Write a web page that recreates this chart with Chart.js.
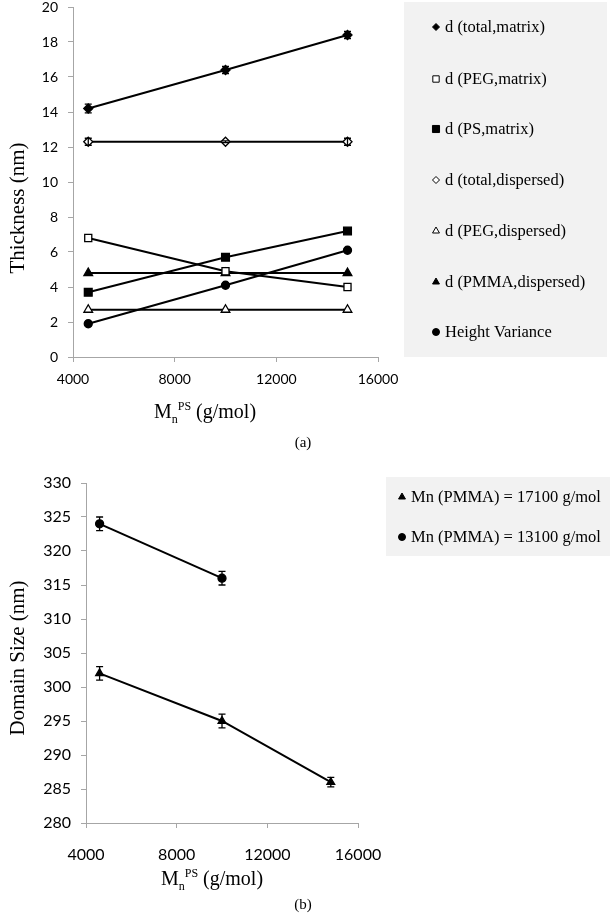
<!DOCTYPE html>
<html>
<head>
<meta charset="utf-8">
<script src="https://cdn.jsdelivr.net/npm/chart.js@4.4.0/dist/chart.umd.min.js"></script>
<style>
  html, body { margin: 0; padding: 0; background: #fff; }
  body { width: 610px; height: 915px; position: relative; overflow: hidden; }
  .wrap { position: absolute; left: 0; width: 610px; }
  #wrapA { top: 0; height: 460px; }
  #wrapB { top: 460px; height: 455px; }
</style>
</head>
<body>
<div class="wrap" id="wrapA"><canvas id="chartA" width="610" height="460"></canvas></div>
<div class="wrap" id="wrapB"><canvas id="chartB" width="610" height="455"></canvas></div>
<script>
// ========== DATA ==========
const mnPS = [4600, 10000, 14800];
const xTicks = [4000, 8000, 12000, 16000];

// (a) thickness, nm
const dTotalMatrix = [14.2, 16.4, 18.4];
const dTotalMatrixErr = [0.25, 0.2, 0.2];
const dPegMatrix = [6.8, 4.9, 4.0];
const dPsMatrix = [3.7, 5.7, 7.2];
const dTotalDispersed = [12.3, 12.3, 12.3];
const dTotalDispersedErr = [0.2, 0.05, 0.2];
const dPegDispersed = [2.7, 2.7, 2.7];
const dPmmaDispersed = [4.8, 4.8, 4.8];
const heightVariance = [1.9, 4.1, 6.1];

// (b) domain size, nm
const mnPS17100 = [4600, 10000, 14800];
const domain17100 = [302, 295, 286];
const domain17100Err = [1, 1, 0.7];
const mnPS13100 = [4600, 10000];
const domain13100 = [324, 316];
const domain13100Err = [1, 1];

const SERIF = '"Liberation Serif", "Times New Roman", serif';
const SANS = 'Lato, "Open Sans", sans-serif';
const AXIS_GREY = '#a6a6a6';

const pts = (xs, ys) => xs.map((x, i) => ({ x: x, y: ys[i] }));

// ========== PLUGINS ==========
const errorBars = {
  id: 'errorBars',
  afterDatasetsDraw(chart) {
    const ctx = chart.ctx;
    const x = chart.scales.x, y = chart.scales.y;
    chart.data.datasets.forEach((ds) => {
      if (!ds.errors) return;
      ctx.save();
      ctx.strokeStyle = '#000';
      ctx.lineWidth = 1.3;
      ds.data.forEach((p, j) => {
        const e = ds.errors[j];
        if (!e) return;
        const px = x.getPixelForValue(p.x);
        const top = y.getPixelForValue(p.y + e);
        const bot = y.getPixelForValue(p.y - e);
        ctx.beginPath();
        ctx.moveTo(px, top); ctx.lineTo(px, bot);
        ctx.moveTo(px - 3.5, top); ctx.lineTo(px + 3.5, top);
        ctx.moveTo(px - 3.5, bot); ctx.lineTo(px + 3.5, bot);
        ctx.stroke();
      });
      ctx.restore();
    });
  }
};

function drawMnTitle(ctx, cx, cy, size) {
  const big = size + 'px ' + SERIF;
  const small = Math.round(size * 0.62) + 'px ' + SERIF;
  ctx.font = big;
  const wM = ctx.measureText('M').width;
  const wRest = ctx.measureText(' (g/mol)').width;
  ctx.font = small;
  const wn = ctx.measureText('n').width;
  const wPS = ctx.measureText('PS').width;
  let x = cx - (wM + wn + wPS + wRest) / 2;
  const base = cy + size * 0.32;
  ctx.textAlign = 'left';
  ctx.textBaseline = 'alphabetic';
  ctx.font = big; ctx.fillText('M', x, base); x += wM;
  ctx.font = small; ctx.fillText('n', x, base + size * 0.25); x += wn;
  ctx.fillText('PS', x, base - size * 0.42); x += wPS;
  ctx.font = big; ctx.fillText(' (g/mol)', x, base);
}

const decor = {
  id: 'decor',
  afterDraw(chart, args, o) {
    const ctx = chart.ctx;
    ctx.save();
    // legend box
    ctx.fillStyle = '#f2f2f2';
    ctx.fillRect(o.box[0], o.box[1], o.box[2], o.box[3]);
    chart.data.datasets.forEach((ds, i) => {
      const ly = o.itemY[i];
      ctx.fillStyle = ds.pointBackgroundColor;
      ctx.strokeStyle = '#000';
      ctx.lineWidth = 1;
      Chart.helpers.drawPoint(ctx, {
        pointStyle: ds.pointStyle,
        radius: ds.legendRadius,
        borderWidth: 1,
        rotation: 0
      }, o.markerX, ly);
      ctx.fillStyle = '#000';
      ctx.font = o.legendSize + 'px ' + SERIF;
      ctx.textAlign = 'left';
      ctx.textBaseline = 'middle';
      ctx.fillText(ds.label, o.textX, ly + 1);
    });
    // y title
    ctx.save();
    ctx.translate(o.yTitle[0], o.yTitle[1]);
    ctx.rotate(-Math.PI / 2);
    ctx.font = o.yTitleSize + 'px ' + SERIF;
    ctx.fillStyle = '#000';
    ctx.textAlign = 'center';
    ctx.textBaseline = 'middle';
    ctx.fillText(o.yTitleText, 0, 0);
    ctx.restore();
    // x title
    ctx.fillStyle = '#000';
    drawMnTitle(ctx, o.xTitle[0], o.xTitle[1], 20);
    // caption
    ctx.font = '15px ' + SERIF;
    ctx.textAlign = 'center';
    ctx.textBaseline = 'middle';
    ctx.fillText(o.caption, o.captionPos[0], o.captionPos[1]);
    ctx.restore();
  }
};

function scalesFor(yMin, yMax, yStep, fontSize, yWidth, xHeight, xPad) {
  return {
    x: {
      type: 'linear', min: 4000, max: 16000,
      afterBuildTicks: (s) => { s.ticks = xTicks.map((v) => ({ value: v })); },
      ticks: { color: '#000', font: { family: SANS, size: fontSize }, padding: xPad,
               maxRotation: 0, autoSkip: false, callback: (v) => String(v) },
      grid: { drawOnChartArea: false, tickLength: 5, color: AXIS_GREY },
      border: { color: AXIS_GREY, width: 1 },
      afterFit: (s) => { s.height = xHeight; s.paddingLeft = 0; s.paddingRight = 0; }
    },
    y: {
      min: yMin, max: yMax,
      ticks: { stepSize: yStep, color: '#000', font: { family: SANS, size: fontSize }, padding: 10,
               callback: (v) => String(v) },
      grid: { drawOnChartArea: false, tickLength: 5, color: AXIS_GREY },
      border: { color: AXIS_GREY, width: 1 },
      afterFit: (s) => { s.width = yWidth; s.paddingTop = 0; s.paddingBottom = 0; }
    }
  };
}

function series(label, xs, ys, style, fill, radius, legendRadius, errors) {
  return {
    label: label,
    data: pts(xs, ys),
    showLine: true,
    borderColor: '#000',
    borderWidth: 2,
    pointStyle: style,
    pointRadius: radius,
    pointHoverRadius: radius,
    pointBackgroundColor: fill,
    pointBorderColor: '#000',
    pointBorderWidth: 1.3,
    legendRadius: legendRadius,
    errors: errors || null
  };
}

// ========== (a) THICKNESS ==========
new Chart(document.getElementById('chartA'), {
  type: 'scatter',
  data: {
    datasets: [
      series('d (total,matrix)', mnPS, dTotalMatrix, 'rectRot', '#000', 4.5, 3.5, dTotalMatrixErr),
      series('d (PEG,matrix)', mnPS, dPegMatrix, 'rect', '#fff', 5, 4.5),
      series('d (PS,matrix)', mnPS, dPsMatrix, 'rect', '#000', 5.5, 5),
      series('d (total,dispersed)', mnPS, dTotalDispersed, 'rectRot', '#fff', 4.5, 3.5, dTotalDispersedErr),
      series('d (PEG,dispersed)', mnPS, dPegDispersed, 'triangle', '#fff', 5, 4),
      series('d (PMMA,dispersed)', mnPS, dPmmaDispersed, 'triangle', '#000', 5, 4),
      series('Height Variance', mnPS, heightVariance, 'circle', '#000', 4, 3.5)
    ]
  },
  options: {
    responsive: false,
    animation: false,
    layout: { padding: { left: 0, top: 7, right: 232, bottom: 0 } },
    scales: scalesFor(0, 20, 2, 14, 73, 103, 9),
    plugins: {
      legend: { display: false },
      tooltip: { enabled: false },
      decor: {
        box: [404, 2, 203, 355],
        itemY: [27, 79, 129, 180, 231, 282, 332],
        markerX: 436, textX: 445, legendSize: 16.5,
        yTitle: [18, 208], yTitleText: 'Thickness (nm)', yTitleSize: 21,
        xTitle: [205, 412],
        caption: '(a)', captionPos: [303, 443]
      }
    }
  },
  plugins: [errorBars, decor]
});

// ========== (b) DOMAIN SIZE ==========
new Chart(document.getElementById('chartB'), {
  type: 'scatter',
  data: {
    datasets: [
      series('Mn (PMMA) = 17100 g/mol', mnPS17100, domain17100, 'triangle', '#000', 4.5, 4, domain17100Err),
      series('Mn (PMMA) = 13100 g/mol', mnPS13100, domain13100, 'circle', '#000', 4, 3.5, domain13100Err)
    ]
  },
  options: {
    responsive: false,
    animation: false,
    layout: { padding: { left: 0, top: 23, right: 252, bottom: 0 } },
    scales: scalesFor(280, 330, 5, 16, 86, 92, 17),
    plugins: {
      legend: { display: false },
      tooltip: { enabled: false },
      decor: {
        box: [386, 17, 224, 79],
        itemY: [37, 77],
        markerX: 402, textX: 411, legendSize: 16.5,
        yTitle: [18, 198], yTitleText: 'Domain Size (nm)', yTitleSize: 21,
        xTitle: [212, 419],
        caption: '(b)', captionPos: [303, 445]
      }
    }
  },
  plugins: [errorBars, decor]
});
</script>
</body>
</html>
